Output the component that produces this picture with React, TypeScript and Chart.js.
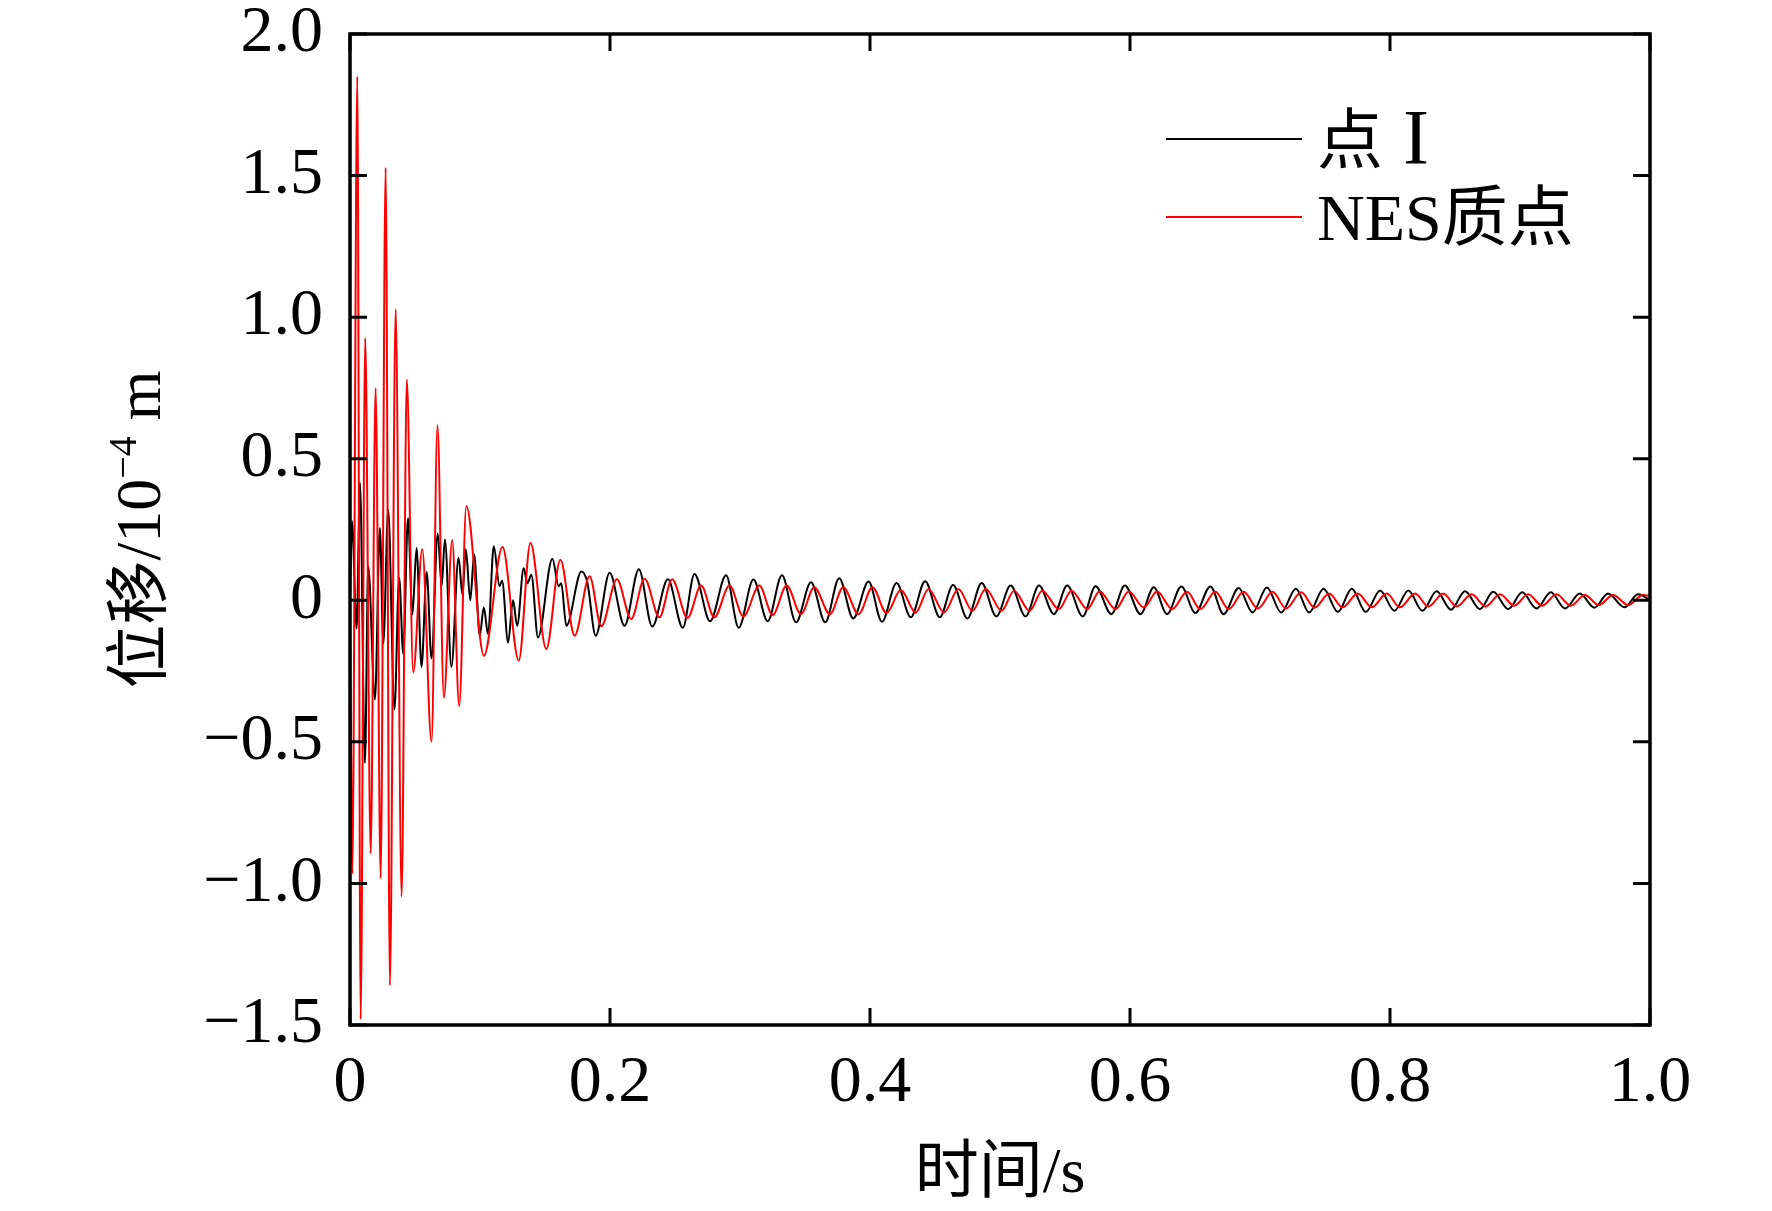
import { useEffect, useRef } from 'react';
import { Chart, registerables } from 'chart.js';

Chart.register(...registerables);

// ---- data (time in s, displacement in 1e-4 m) ----
const tBlack = [
  0, 0.0015, 0.0051, 0.0077, 0.0115, 0.014, 0.0192, 0.023, 0.0256, 0.0294, 0.0342, 0.0378, 0.041, 0.0446, 0.048,
  0.0512, 0.055, 0.059, 0.0627, 0.0675, 0.0705, 0.073, 0.078, 0.0835, 0.0865, 0.0891, 0.0925, 0.0955, 0.0998,
  0.1029, 0.1062, 0.1106, 0.115, 0.117, 0.1216, 0.1254, 0.1286, 0.1336, 0.1365, 0.1395, 0.1446, 0.1557, 0.1605,
  0.1625, 0.1664, 0.178, 0.1825, 0.189, 0.1997, 0.2112, 0.2222, 0.2325, 0.2445, 0.256,
  0.265, 0.277, 0.2893, 0.299, 0.3103, 0.3213, 0.3323, 0.3431, 0.3546, 0.3656, 0.3763, 0.3871, 0.3989, 0.4092,
  0.4204, 0.4314, 0.4424, 0.4537, 0.4639, 0.4749, 0.4859, 0.4972, 0.5082, 0.5197, 0.53, 0.5415, 0.5517, 0.5637,
  0.5735, 0.5857, 0.596, 0.6081, 0.6183, 0.6285, 0.6395, 0.6503, 0.6618, 0.672, 0.6836, 0.6943, 0.7053, 0.7163,
  0.7276, 0.7378, 0.7489, 0.7599, 0.7706, 0.7814, 0.7924, 0.8034, 0.8141, 0.8249, 0.8359, 0.8469, 0.8577, 0.8692,
  0.8794, 0.891, 0.9017, 0.9127, 0.9237, 0.9347, 0.946, 0.9573, 0.9677, 0.9803, 0.9908, 1.0,
];
const vBlack = [
  0, 0.28, -0.1, 0.415, -0.575, 0.12, -0.35, 0.255, -0.153, 0.32, -0.385, 0.08, -0.19, 0.29, -0.05,
  0.185, -0.235, 0.1, -0.205, 0.236, 0.05, 0.215, -0.235, 0.15, 0.02, 0.18, 0.0, 0.162, -0.125,
  -0.025, -0.12, 0.191, 0.05, 0.07, -0.149, 0.0, -0.09, 0.113, 0.06, 0.09, -0.131, 0.147, 0.05,
  0.06, -0.09, 0.102, 0.065, -0.125, 0.097, -0.09, 0.11, -0.093, 0.074, -0.097,
  0.093, -0.074, 0.088, -0.097, 0.073, -0.074, 0.088, -0.078, 0.064, -0.078, 0.078, -0.064, 0.066, -0.076,
  0.061, -0.06, 0.067, -0.06, 0.054, -0.064, 0.061, -0.057, 0.052, -0.057, 0.052, -0.049, 0.052, -0.057,
  0.05, -0.049, 0.052, -0.049, 0.046, -0.049, 0.049, -0.045, 0.049, -0.049, 0.043, -0.043, 0.045, -0.043,
  0.041, -0.043, 0.041, -0.041, 0.041, -0.041, 0.035, -0.037, 0.035, -0.037, 0.032, -0.033, 0.032, -0.031,
  0.03, -0.031, 0.028, -0.029, 0.028, -0.029, 0.024, -0.026, 0.024, -0.025, 0.021, 0.002,
];

const tRed = [
  0, 0.0018, 0.0056, 0.0082, 0.0117, 0.0159, 0.0197, 0.0236, 0.0274, 0.0307, 0.0351, 0.0397, 0.0437, 0.0486,
  0.0556, 0.0627, 0.0673, 0.0722, 0.0786, 0.084, 0.0895, 0.103, 0.1173, 0.1298, 0.1388, 0.151, 0.1618, 0.1728,
  0.1843, 0.1933, 0.2053, 0.2163, 0.2266, 0.238, 0.2478, 0.2596,
  0.2701, 0.2803, 0.2919, 0.3026, 0.3149, 0.3251, 0.3359, 0.3469, 0.3571, 0.3692, 0.3794, 0.3912, 0.4019,
  0.4127, 0.4237, 0.4352, 0.445, 0.457, 0.468, 0.4788, 0.489, 0.5013, 0.5108, 0.5228, 0.5325, 0.5453, 0.555,
  0.5671, 0.5766, 0.5889, 0.5991, 0.6106, 0.6209, 0.6324, 0.6439, 0.6541, 0.6657, 0.6759, 0.6874, 0.6984,
  0.7097, 0.72, 0.7317, 0.742, 0.7532, 0.7635, 0.7752, 0.786, 0.7975, 0.8077, 0.8193, 0.8295, 0.841, 0.8513,
  0.8628, 0.8736, 0.8846, 0.8956, 0.9063, 0.9171, 0.9281, 0.9391, 0.9499, 0.9606, 0.9716, 0.9832, 0.9946, 1.0,
];
const vRed = [
  0, -0.965, 1.85, -1.48, 0.926, -0.894, 0.749, -0.982, 1.528, -1.36, 1.028, -1.046, 0.78, -0.255,
  0.18, -0.5, 0.618, -0.344, 0.213, -0.373, 0.333, -0.196, 0.188, -0.213, 0.202, -0.172, 0.143, -0.125,
  0.085, -0.092, 0.074, -0.066, 0.076, -0.06, 0.074, -0.062,
  0.052, -0.06, 0.052, -0.057, 0.052, -0.052, 0.052, -0.049, 0.046, -0.049, 0.046, -0.049, 0.046,
  -0.045, 0.036, -0.043, 0.04, -0.043, 0.04, -0.037, 0.04, -0.037, 0.034, -0.037, 0.034, -0.031, 0.034,
  -0.031, 0.031, -0.031, 0.031, -0.025, 0.031, -0.031, 0.03, -0.031, 0.03, -0.031, 0.03, -0.029,
  0.03, -0.029, 0.028, -0.026, 0.024, -0.025, 0.024, -0.025, 0.024, -0.025, 0.024, -0.022, 0.024, -0.022,
  0.021, -0.022, 0.021, -0.019, 0.021, -0.019, 0.021, -0.019, 0.019, -0.017, 0.019, -0.017, 0.019, 0.015,
];

const xTicks = [0, 0.2, 0.4, 0.6, 0.8, 1.0];
const yTicks = [-1.5, -1.0, -0.5, 0, 0.5, 1.0, 1.5, 2.0];
const seriesNames = ['点', 'I', 'NES质点'];
const xTitle = '时间/s';
const yTitleMain = '位移/10';
const yTitleSup = '−4';
const yTitleUnit = ' m';

const FONT = '"Liberation Serif", "Noto Sans CJK SC", serif';

const fmtY = (v: number) => (Math.abs(v) < 1e-9 ? '0' : (v < 0 ? '−' : '') + Math.abs(v).toFixed(1));
const fmtX = (v: number) => (Math.abs(v) < 1e-9 ? '0' : v.toFixed(1));

const framePlugin = {
  id: 'framePlugin',
  afterDraw(chart: any) {
    const { ctx, chartArea: a, scales } = chart;
    const xs = scales.x;
    const ys = scales.y;
    ctx.save();
    ctx.strokeStyle = '#000';
    ctx.lineCap = 'butt';
    ctx.lineWidth = 3;
    const tl = 17;
    ctx.beginPath();
    for (const v of xTicks) {
      const px = xs.getPixelForValue(v);
      ctx.moveTo(px, a.bottom);
      ctx.lineTo(px, a.bottom - tl);
      ctx.moveTo(px, a.top);
      ctx.lineTo(px, a.top + tl);
    }
    for (const v of yTicks) {
      const py = ys.getPixelForValue(v);
      ctx.moveTo(a.left, py);
      ctx.lineTo(a.left + tl, py);
      ctx.moveTo(a.right, py);
      ctx.lineTo(a.right - tl, py);
    }
    ctx.stroke();
    ctx.lineWidth = 3.5;
    ctx.strokeRect(a.left, a.top, a.right - a.left, a.bottom - a.top);

    // legend
    ctx.lineWidth = 2;
    ctx.strokeStyle = '#000';
    ctx.beginPath();
    ctx.moveTo(1166, 139);
    ctx.lineTo(1302, 139);
    ctx.stroke();
    ctx.strokeStyle = '#ff0000';
    ctx.beginPath();
    ctx.moveTo(1166, 217);
    ctx.lineTo(1302, 217);
    ctx.stroke();
    ctx.fillStyle = '#000';
    ctx.textBaseline = 'alphabetic';
    ctx.textAlign = 'left';
    ctx.font = `66px ${FONT}`;
    ctx.fillText(seriesNames[0], 1317, 163);
    ctx.font = `78px ${FONT}`;
    ctx.fillText(seriesNames[1], 1403, 163);
    ctx.font = `66px ${FONT}`;
    ctx.fillText(seriesNames[2], 1317, 240);

    // x title
    ctx.textAlign = 'center';
    ctx.font = `64px ${FONT}`;
    ctx.fillText(xTitle, (a.left + a.right) / 2, 1192);

    // y title (rotated)
    ctx.save();
    ctx.translate(160, (a.top + a.bottom) / 2);
    ctx.rotate(-Math.PI / 2);
    ctx.textAlign = 'left';
    const mainFont = `64px ${FONT}`;
    const supFont = `40px ${FONT}`;
    ctx.font = mainFont;
    const w1 = ctx.measureText(yTitleMain).width;
    const w3 = ctx.measureText(yTitleUnit).width;
    ctx.font = supFont;
    const w2 = ctx.measureText(yTitleSup).width;
    const total = w1 + w2 + w3;
    let x0 = -total / 2;
    ctx.font = mainFont;
    ctx.fillText(yTitleMain, x0, 0);
    x0 += w1;
    ctx.font = supFont;
    ctx.fillText(yTitleSup, x0, -24);
    x0 += w2;
    ctx.font = mainFont;
    ctx.fillText(yTitleUnit, x0, 0);
    ctx.restore();

    ctx.restore();
  },
};

export default function App() {
  const ref = useRef<HTMLCanvasElement | null>(null);
  useEffect(() => {
    if (!ref.current) return;
    const chart = new Chart(ref.current, {
      type: 'line',
      data: {
        datasets: [
          {
            label: '点 I',
            data: tBlack.map((t, i) => ({ x: t, y: vBlack[i] })),
            borderColor: '#000000',
            borderWidth: 2,
            pointRadius: 0,
            cubicInterpolationMode: 'monotone',
            order: 1,
          },
          {
            label: 'NES质点',
            data: tRed.map((t, i) => ({ x: t, y: vRed[i] })),
            borderColor: '#ff0000',
            borderWidth: 2,
            pointRadius: 0,
            cubicInterpolationMode: 'monotone',
            order: 0,
          },
        ],
      },
      options: {
        animation: false,
        responsive: false,
        devicePixelRatio: 1,
        layout: { padding: { top: 34, right: 122, left: 0, bottom: 0 } },
        plugins: { legend: { display: false }, tooltip: { enabled: false } },
        events: [],
        scales: {
          x: {
            type: 'linear',
            min: 0,
            max: 1,
            grid: { display: false, drawTicks: false },
            border: { display: false },
            afterBuildTicks: (s: any) => {
              s.ticks = xTicks.map((v) => ({ value: v }));
            },
            afterFit: (s: any) => {
              s.height = 1211 - 1025;
              s.paddingLeft = 0;
              s.paddingRight = 0;
            },
            ticks: {
              padding: 19,
              color: '#000',
              font: { family: FONT, size: 66 },
              maxRotation: 0,
              autoSkip: false,
              callback: (v: any) => fmtX(Number(v)),
            },
          },
          y: {
            type: 'linear',
            min: -1.5,
            max: 2.0,
            grid: { display: false, drawTicks: false },
            border: { display: false },
            afterBuildTicks: (s: any) => {
              s.ticks = yTicks.map((v) => ({ value: v }));
            },
            afterFit: (s: any) => {
              s.width = 350;
              s.paddingTop = 0;
              s.paddingBottom = 0;
            },
            ticks: {
              padding: 27,
              color: '#000',
              font: { family: FONT, size: 66 },
              autoSkip: false,
              callback: (v: any) => fmtY(Number(v)),
            },
          },
        },
      },
      plugins: [framePlugin],
    } as any);
    return () => chart.destroy();
  }, []);
  return (
    <div style={{ position: 'absolute', left: 0, top: 0, width: 1772, height: 1211, background: '#fff' }}>
      <canvas ref={ref} width={1772} height={1211} style={{ width: 1772, height: 1211, display: 'block' }} />
    </div>
  );
}
